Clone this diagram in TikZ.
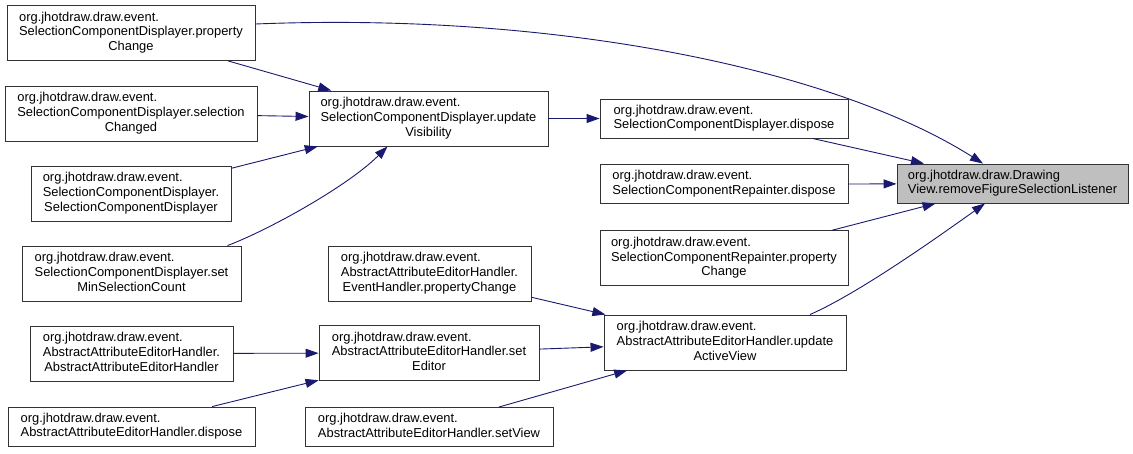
\documentclass[tikz,border=0pt]{standalone}
\usepackage{fontspec}
\setmainfont{Liberation Sans}
\usepackage{xcolor}
\definecolor{edge-blue}{RGB}{25,25,112}
\definecolor{frame-dark}{RGB}{51,51,51}
\definecolor{focus-gray}{RGB}{191,191,191}
\usepackage{tikz}
\usetikzlibrary{arrows.meta,positioning}

% label: first lines left aligned, last line centred
\newcommand{\fnlabel}[2]{\begin{tabular}{@{}l@{}}#1\\\multicolumn{1}{@{}c@{}}{#2}\end{tabular}}

\begin{document}
\begin{tikzpicture}[
    x=1pt, y=-1pt,
    func box/.style={
        draw=frame-dark,
        line width=0.9pt,
        fill=white,
        inner sep=0pt,
        minimum height=55pt,
        font=\fontsize{12.9}{14.7}\selectfont
    },
    short box/.style={
        func box,
        minimum height=39pt
    },
    focus box/.style={
        short box,
        fill=focus-gray
    },
    call edge/.style={
        draw=edge-blue,
        line width=0.9pt,
        -{Triangle[length=13pt,width=9pt]}
    }
]
\useasboundingbox (0,0) rectangle (1133,453);

% === LEFT COLUMN ===
\node[func box, minimum width=248pt] (pcd) at (131,33) {\fnlabel{org.jhotdraw.draw.event.\\SelectionComponentDisplayer.property}{Change}};
\node[func box, minimum width=252pt] (selch) at (131,113.5) {\fnlabel{org.jhotdraw.draw.event.\\SelectionComponentDisplayer.selection}{Changed}};
\node[func box, minimum width=200pt] (scdctor) at (131,193.5) {\fnlabel{org.jhotdraw.draw.event.\\SelectionComponentDisplayer.}{SelectionComponentDisplayer}};
\node[func box, minimum width=219pt] (setmin) at (131.5,273.5) {\fnlabel{org.jhotdraw.draw.event.\\SelectionComponentDisplayer.set}{MinSelectionCount}};
\node[func box, minimum width=203pt] (aaehctor) at (131.5,353.5) {\fnlabel{org.jhotdraw.draw.event.\\AbstractAttributeEditorHandler.}{AbstractAttributeEditorHandler}};
\node[short box, minimum width=247pt] (aaedisp) at (131.5,426.5) {\fnlabel{org.jhotdraw.draw.event.}{AbstractAttributeEditorHandler.dispose}};

% === MIDDLE COLUMN ===
\node[func box, minimum width=239pt] (updvis) at (428.5,118.5) {\fnlabel{org.jhotdraw.draw.event.\\SelectionComponentDisplayer.update}{Visibility}};
\node[func box, minimum width=203pt] (ehpc) at (429.5,273.5) {\fnlabel{org.jhotdraw.draw.event.\\AbstractAttributeEditorHandler.}{EventHandler.propertyChange}};
\node[func box, minimum width=220pt] (seted) at (429,353) {\fnlabel{org.jhotdraw.draw.event.\\AbstractAttributeEditorHandler.set}{Editor}};
\node[short box, minimum width=248pt] (setview) at (429,427) {\fnlabel{org.jhotdraw.draw.event.}{AbstractAttributeEditorHandler.setView}};

% === RIGHT COLUMN ===
\node[short box, minimum width=248pt] (scddisp) at (724,118.5) {\fnlabel{org.jhotdraw.draw.event.}{SelectionComponentDisplayer.dispose}};
\node[short box, minimum width=248pt, below=26pt of scddisp] (scrdisp) {\fnlabel{org.jhotdraw.draw.event.}{SelectionComponentRepainter.dispose}};
\node[func box, minimum width=248pt, below=26pt of scrdisp] (scrpc) {\fnlabel{org.jhotdraw.draw.event.\\SelectionComponentRepainter.property}{Change}};
\node[func box, minimum width=242pt] (updav) at (725,342.5) {\fnlabel{org.jhotdraw.draw.event.\\AbstractAttributeEditorHandler.update}{ActiveView}};

% Target function
\node[focus box, minimum width=231pt] (rfsl) at (1012.5,183.5) {\fnlabel{org.jhotdraw.draw.Drawing}{View.removeFigureSelectionListener}};

% === CALLS ===
\draw[call edge] (pcd) -- (updvis);
\draw[call edge] (selch) -- (updvis);
\draw[call edge] (scdctor) -- (updvis);
\draw[call edge] ([xshift=96pt]setmin.north) .. controls +(40,-15) and +(-40,40) .. ([xshift=-41pt]updvis.south);
\draw[call edge] (updvis) -- (scddisp);
\draw[call edge] ([yshift=9pt]pcd.east) .. controls +(300,-12) and +(-150,-95) .. ([xshift=-29.5pt]rfsl.north);
\draw[call edge] (scddisp) -- (rfsl);
\draw[call edge] (scrdisp) -- (rfsl);
\draw[call edge] (scrpc) -- (rfsl);
\draw[call edge] ([xshift=85pt]updav.north) .. controls +(50,-22) and +(-45,32) .. ([xshift=-27.5pt]rfsl.south);
\draw[call edge] (ehpc) -- (updav);
\draw[call edge] (seted) -- (updav);
\draw[call edge] (setview) -- (updav);
\draw[call edge] (aaehctor) -- (seted);
\draw[call edge] (aaedisp) -- (seted);

\end{tikzpicture}
\end{document}
